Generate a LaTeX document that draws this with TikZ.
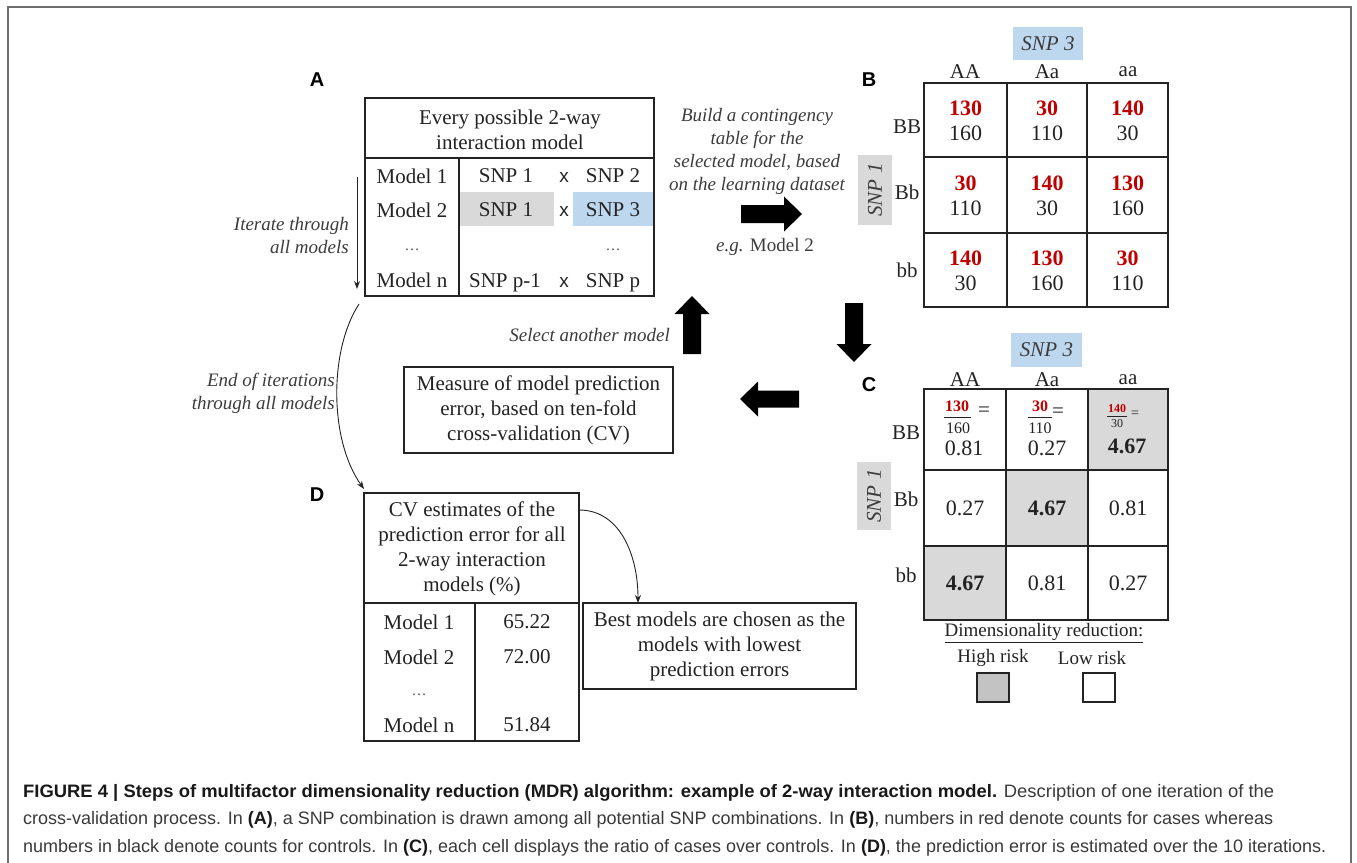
\documentclass[tikz,border=0pt]{standalone}
\usepackage{fontspec}
\usepackage{graphicx}
\setmainfont{Liberation Serif}
\newfontfamily\sansf{Liberation Sans}
\usetikzlibrary{arrows.meta}
\definecolor{myred}{RGB}{192,0,0}
\definecolor{snpblue}{RGB}{189,215,238}
\definecolor{snpgrey}{RGB}{217,217,217}
\definecolor{cellgrey}{RGB}{217,217,217}
\definecolor{leggrey}{RGB}{195,195,195}
\definecolor{framegrey}{RGB}{110,110,110}
\definecolor{captxt}{RGB}{58,58,58}
\definecolor{capbold}{RGB}{25,25,25}
\definecolor{ink}{RGB}{35,35,35}
\definecolor{itink}{RGB}{60,60,60}
\newcommand{\fsz}[2]{\fontsize{#1}{#2}\selectfont}
\tikzset{
  txt/.style={inner sep=0pt, font=\fsz{21}{25}, text=ink},
  val/.style={inner sep=0pt, font=\fsz{22}{25}, text=ink},
  valb/.style={inner sep=0pt, font=\fsz{22}{25}\bfseries, text=ink},
  redv/.style={inner sep=0pt, font=\fsz{22}{25}\bfseries, text=myred},
  dotsn/.style={inner sep=0pt, font=\fsz{15}{18}, text=ink!80},
  xmark/.style={inner sep=0pt, font=\sansf\fsz{19}{22}, text=ink},
  itx/.style={inner sep=0pt, font=\fsz{19}{23}\itshape, text=itink},
  lab/.style={inner sep=0pt, font=\sansf\bfseries\fsz{20}{22}, text=black},
  tbl/.style={draw=ink, line width=1.3pt},
  boxed/.style={draw=ink, line width=1.3pt, inner sep=0pt, align=center, font=\fsz{21}{25}, text=ink},
  snpb/.style={fill=snpblue, inner sep=0pt, font=\fsz{21}{24}\itshape, text=itink},
  snpg/.style={fill=snpgrey, inner sep=0pt, font=\fsz{21}{24}\itshape, text=itink},
  thinarr/.style={draw=ink, line width=0.9pt, -{Stealth[length=8pt,width=6pt]}},
  fnum/.style={inner sep=0pt, font=\fsz{16}{18}\bfseries, text=myred},
  fden/.style={inner sep=0pt, font=\fsz{16}{18}, text=ink},
  fbar/.style={draw=ink, line width=0.8pt},
  bigarr/.style={fill=black},
  legtxt/.style={inner sep=0pt, font=\fsz{19}{22}, text=ink},
  legbox/.style={draw=ink, line width=1.3pt, minimum width=32, minimum height=29, inner sep=0pt},
  capline/.style={inner sep=0pt, anchor=base west, font=\sansf\fsz{18}{22}, text=captxt},
}
\begin{document}
\begin{tikzpicture}[x=1pt,y=-1pt]
\useasboundingbox (0,0) rectangle (1357,862);
\fill[white] (0,0) rectangle (1357,862);
\draw[framegrey, line width=2pt] (8,875) -- (8,7) -- (1351,7) -- (1351,875);

%% ---------------- Panel A ----------------
\node[lab] (labA) at (317,80) {A};
\fill[snpgrey] (460,192) rectangle (554,226);
\fill[snpblue] (573,192) rectangle (654,226);
\draw[tbl] (365,98) rectangle (654,296);
\draw[tbl] (365,158) -- (654,158);
\draw[tbl] (459,158) -- (459,296);
\coordinate (xcol) at (564,0);
\node[txt, align=center] (aHead) at (510,130) {Every possible 2-way\\interaction model};
\node[txt] (aM1) at (412,176) {Model 1};
\node[txt] (aS11) at (506,176) {SNP 1};
\node[xmark, anchor=base] (aX1) at (aS11.base -| xcol) {x};
\node[txt] (aS12) at (613,176) {SNP 2};
\node[txt] (aM2) at (412,210) {Model 2};
\node[txt] (aS21) at (506,210) {SNP 1};
\node[xmark, anchor=base] (aX2) at (aS21.base -| xcol) {x};
\node[txt] (aS23) at (613,210) {SNP 3};
\node[dotsn] (aDa) at (412,250) {\dots};
\node[dotsn] (aDb) at (613,250) {\dots};
\node[txt] (aMn) at (412,280) {Model n};
\node[txt, anchor=base] (aSn1) at (aMn.base -| 505,0) {SNP p-1};
\node[xmark, anchor=base] (aXn) at (aMn.base -| xcol) {x};
\node[txt, anchor=base] (aSn2) at (aMn.base -| 613,0) {SNP p};

\coordinate (itTop) at (357,177);
\coordinate (itBot) at (357,289);
\draw[thinarr] (itTop) -- (itBot);
\node[itx, align=right, anchor=east] (itLab) at (349,236) {Iterate through\\all models};

\coordinate (endS) at (359,304);
\coordinate (endE) at (364,489);
\draw[thinarr] (endS) .. controls (329,350) and (329,440) .. (endE);
\node[itx, align=right, anchor=east] (endLab) at (335,393) {End of iterations\\through all models};

%% ---------------- Arrows between panels ----------------
\node[itx, align=center] (buildLab) at (757,151) {Build a contingency\\table for the\\selected model, based\\on the learning dataset};
\node[inner sep=0pt, font=\fsz{19}{23}, text=itink] (egLab) at (765,247) {\textit{e.g.} Model 2};
\fill[bigarr] (741,205) -- (784,205) -- (784,196.5) -- (802,214) -- (784,231.5) -- (784,223) -- (741,223) -- cycle;
\fill[bigarr] (683,354) -- (683,314) -- (674.5,314) -- (692,296) -- (709.5,314) -- (701,314) -- (701,354) -- cycle;
\fill[bigarr] (845,303) -- (845,344) -- (836.5,344) -- (854,362) -- (871.5,344) -- (863,344) -- (863,303) -- cycle;
\fill[bigarr] (799,390.5) -- (758,390.5) -- (758,381.5) -- (740,399) -- (758,416.5) -- (758,407.5) -- (799,407.5) -- cycle;
\node[itx, anchor=east] (selLab) at (670,335) {Select another model};
\node[boxed, minimum width=269, minimum height=86] (measure) at (538.5,410) {Measure of model prediction\\error, based on ten-fold\\cross-validation (CV)};

%% ---------------- Panel B ----------------
\node[lab] (labB) at (869,80) {B};
\node[snpb, minimum width=70, minimum height=33] (b3) at (1048,43.5) {SNP 3};
\node[txt] (bAA) at (965,72) {AA};
\node[txt] (bAa) at (1047,72) {Aa};
\node[txt] (baa) at (1128,72) {aa};
\draw[tbl] (924,83) rectangle (1168,307);
\draw[tbl] (1007,83) -- (1007,307);
\draw[tbl] (1087,83) -- (1087,307);
\draw[tbl] (924,157) -- (1168,157);
\draw[tbl] (924,233) -- (1168,233);
\node[txt] (bBB) at (907,127) {BB};
\node[txt] (bBb) at (907,192) {Bb};
\node[txt] (bbb) at (907,270) {bb};
\node[snpg, rotate=90, minimum width=70, minimum height=34] (b1) at (875,190) {SNP 1};
\foreach \nm/\cx/\ry/\rv/\bv in {b11/965.5/108/130/160, b12/1047/108/30/110, b13/1127.5/108/140/30,
  b21/965.5/183/30/110, b22/1047/183/140/30, b23/1127.5/183/130/160,
  b31/965.5/258/140/30, b32/1047/258/130/160, b33/1127.5/258/30/110}{
  \node[redv] (\nm r) at (\cx,\ry) {\rv};
  \node[val] (\nm k) at (\cx,\ry+25) {\bv};
}

%% ---------------- Panel C ----------------
\node[lab] (labC) at (869,385) {C};
\node[snpb, minimum width=71, minimum height=34] (c3) at (1046.5,350) {SNP 3};
\node[txt] (cAA) at (965,380) {AA};
\node[txt] (cAa) at (1047,380) {Aa};
\node[txt] (caa) at (1128,380) {aa};
\fill[cellgrey] (1088,389) rectangle (1168,470);
\fill[cellgrey] (1006,470) rectangle (1088,546);
\fill[cellgrey] (924,546) rectangle (1006,620);
\draw[tbl] (924,389) rectangle (1168,620);
\draw[tbl] (1006,389) -- (1006,620);
\draw[tbl] (1088,389) -- (1088,620);
\draw[tbl] (924,470) -- (1168,470);
\draw[tbl] (924,546) -- (1168,546);
\node[txt] (cBB) at (906,433) {BB};
\node[txt] (cBb) at (906,499) {Bb};
\node[txt] (cbb) at (906,575) {bb};
\node[snpg, rotate=90, minimum width=68, minimum height=34] (c1) at (874,496) {SNP 1};
% row BB
\node[fnum] (cf1n) at (957,406) {130};
\draw[fbar] (944,417) -- (971,417);
\node[fden] (cf1d) at (958,428) {160};
\node[txt] (cf1e) at (984,412) {=};
\node[val] (cf1v) at (964,448) {0.81};
\node[fnum] (cf2n) at (1040,406) {30};
\draw[fbar] (1028,417) -- (1052,417);
\node[fden] (cf2d) at (1040,428) {110};
\node[txt] (cf2e) at (1058,413) {=};
\node[val] (cf2v) at (1047,448) {0.27};
\node[fnum, font=\fsz{12}{14}\bfseries] (cf3n) at (1117,409) {140};
\draw[fbar, line width=0.6pt] (1107,416) -- (1127,416);
\node[fden, font=\fsz{12}{14}] (cf3d) at (1117,424) {30};
\node[inner sep=0pt, font=\fsz{14}{16}, text=ink] (cf3e) at (1135,414) {=};
\node[valb] (cf3v) at (1127,446) {4.67};
% row Bb
\node[val] (c21) at (965,508) {0.27};
\node[valb] (c22) at (1047,508) {4.67};
\node[val] (c23) at (1128,508) {0.81};
% row bb
\node[valb] (c31) at (965,583) {4.67};
\node[val] (c32) at (1047,583) {0.81};
\node[val] (c33) at (1128,583) {0.27};
% legend
\node[legtxt] (legT) at (1044,633) {\underline{Dimensionality reduction:}};
\node[legtxt] (legH) at (993,658) {High risk};
\node[legtxt] (legL) at (1092,658) {Low risk};
\node[legbox, fill=leggrey] (legHB) at (993,687.5) {};
\node[legbox, fill=white] (legLB) at (1099,687.5) {};

%% ---------------- Panel D ----------------
\node[lab] (labD) at (317,495) {D};
\draw[tbl] (364,493) rectangle (579,741);
\draw[tbl] (364,603) -- (579,603);
\draw[tbl] (475,603) -- (475,741);
\node[txt, align=center] (dHead) at (472,549) {CV estimates of the\\prediction error for all\\2-way interaction\\models (\%)};
\node[txt] (dM1) at (419,622) {Model 1};
\node[txt] (dV1) at (527,622) {65.22};
\node[txt] (dM2) at (419,657) {Model 2};
\node[txt] (dV2) at (527,657) {72.00};
\node[dotsn] (dDots) at (419,695) {\dots};
\node[txt] (dMn) at (419,725) {Model n};
\node[txt] (dVn) at (527,725) {51.84};
\node[boxed, minimum width=273, minimum height=86] (best) at (719.5,646) {Best models are chosen as the\\models with lowest\\prediction errors};
\coordinate (dOut) at (579,510);
\coordinate (bestIn) at (638,603);
\draw[thinarr] (dOut) .. controls (620,510) and (638,555) .. (bestIn);

%% ---------------- Caption ----------------
\node[capline] (cap1) at (23,797) {\resizebox{1251pt}{\height}{\textcolor{capbold}{\bfseries FIGURE 4 | Steps of multifactor dimensionality reduction (MDR) algorithm: example of 2-way interaction model.} Description of one iteration of the}};
\node[capline] (cap2) at (23,824) {\resizebox{1250pt}{\height}{cross-validation process. In \textcolor{capbold}{\bfseries (A)}, a SNP combination is drawn among all potential SNP combinations. In \textcolor{capbold}{\bfseries (B)}, numbers in red denote counts for cases whereas}};
\node[capline] (cap3) at (23,852) {\resizebox{1303pt}{\height}{numbers in black denote counts for controls. In \textcolor{capbold}{\bfseries (C)}, each cell displays the ratio of cases over controls. In \textcolor{capbold}{\bfseries (D)}, the prediction error is estimated over the 10 iterations.}};
\end{tikzpicture}
\end{document}
